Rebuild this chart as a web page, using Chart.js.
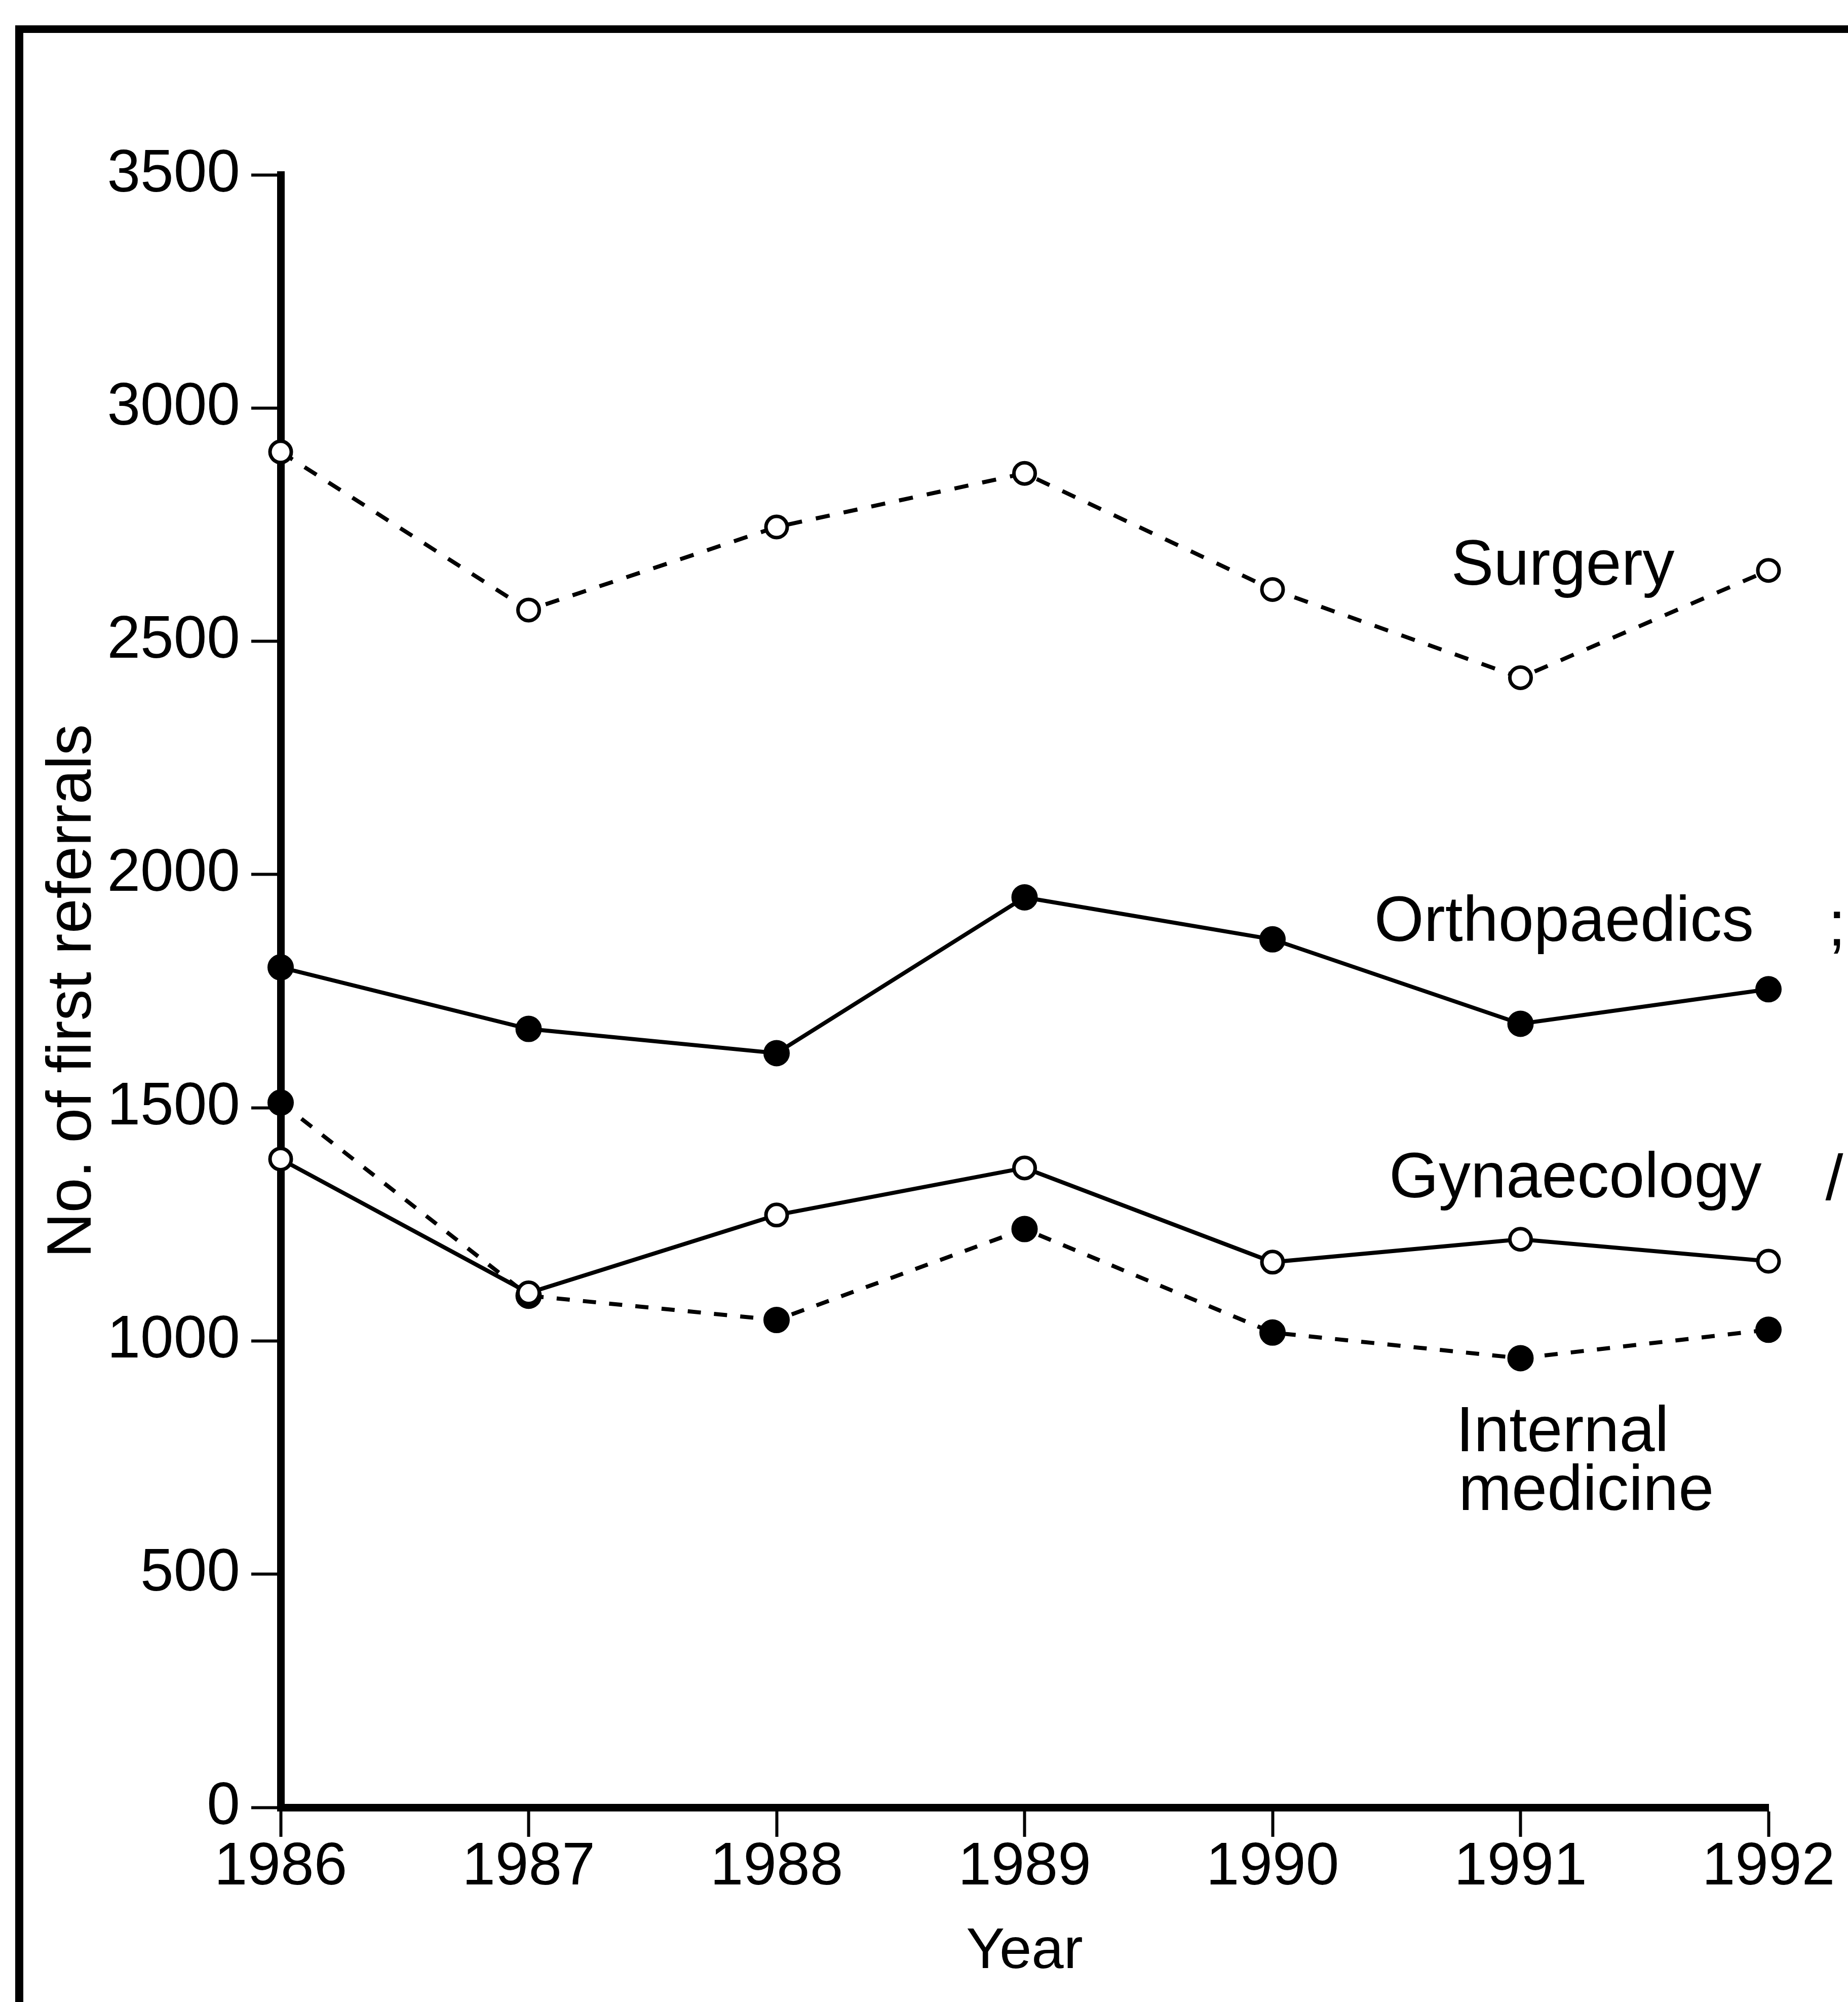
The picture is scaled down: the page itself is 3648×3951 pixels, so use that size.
<!DOCTYPE html>
<html>
<head>
<meta charset="utf-8">
<script src="https://cdn.jsdelivr.net/npm/chart.js@4/dist/chart.umd.min.js"></script>
<style>
  html, body { margin: 0; padding: 0; background: #fff; }
  canvas { display: block; }
</style>
</head>
<body>
<canvas id="referralsChart" width="3648" height="3951"></canvas>
<script>
const years = ['1986', '1987', '1988', '1989', '1990', '1991', '1992']
const surgery = [2906, 2567, 2745, 2860, 2611, 2422, 2652]
const orthopaedics = [1801, 1669, 1617, 1951, 1861, 1680, 1754]
const gynaecology = [1390, 1103, 1270, 1371, 1169, 1218, 1171]
const internalMedicine = [1511, 1097, 1045, 1240, 1018, 963, 1024]
const yMin = 0
const yMax = 3500
const yStep = 500

const FONT = '"Liberation Sans", Arial, Helvetica, sans-serif'

// white page plus the scanned frame (top and left edges only)
const pagePlugin = {
    id: 'page',
    beforeDraw: (chart) => {
        const ctx = chart.ctx
        ctx.save()
        ctx.fillStyle = '#fff'
        ctx.fillRect(0, 0, chart.width, chart.height)
        ctx.fillStyle = '#000'
        ctx.fillRect(30, 50, chart.width - 30, 15)
        ctx.fillRect(30, 50, 16, chart.height - 50)
        ctx.restore()
    }
}

// series names written next to the lines, anchored in data units
const seriesNames = [
    { text: 'Surgery', x: 4.72, y: 2621 },
    { text: 'Orthopaedics', x: 4.41, y: 1857 },
    { text: 'Gynaecology', x: 4.47, y: 1308 },
    { text: 'Internal', x: 4.74, y: 764 },
    { text: 'medicine', x: 4.75, y: 638 },
    { text: ';', x: 6.24, y: 1848 },
    { text: '/', x: 6.23, y: 1302 }
]

const namesPlugin = {
    id: 'names',
    afterDatasetsDraw: (chart) => {
        const ctx = chart.ctx
        const xs = chart.scales.x
        const ys = chart.scales.y
        ctx.save()
        ctx.fillStyle = '#000'
        ctx.font = '126px ' + FONT
        ctx.textAlign = 'left'
        ctx.textBaseline = 'alphabetic'
        seriesNames.forEach(n => {
            ctx.fillText(n.text, xs.getPixelForValue(n.x), ys.getPixelForValue(n.y))
        })
        ctx.restore()
    }
}

const openPoint = {
    pointStyle: 'circle',
    pointRadius: 21,
    pointBackgroundColor: '#fff',
    pointBorderColor: '#000',
    pointBorderWidth: 7
}
const filledPoint = {
    pointStyle: 'circle',
    pointRadius: 25,
    pointBackgroundColor: '#000',
    pointBorderColor: '#000',
    pointBorderWidth: 2
}

const data = {
    labels: years,
    datasets: [
        Object.assign({
            label: 'Surgery',
            data: surgery,
            borderColor: '#000',
            borderWidth: 8,
            borderDash: [28, 28]
        }, openPoint),
        Object.assign({
            label: 'Orthopaedics',
            data: orthopaedics,
            borderColor: '#000',
            borderWidth: 8
        }, filledPoint),
        Object.assign({
            label: 'Gynaecology',
            data: gynaecology,
            borderColor: '#000',
            borderWidth: 8
        }, openPoint),
        Object.assign({
            label: 'Internal medicine',
            data: internalMedicine,
            borderColor: '#000',
            borderWidth: 8,
            borderDash: [26, 26]
        }, filledPoint)
    ]
}

const config = {
    type: 'line',
    data: data,
    options: {
        responsive: false,
        animation: false,
        devicePixelRatio: 1,
        layout: { padding: { top: 345, right: 157, left: 0, bottom: 0 } },
        elements: { line: { tension: 0, fill: false } },
        datasets: { line: { clip: false } },
        plugins: {
            legend: { display: false },
            tooltip: { enabled: false }
        },
        scales: {
            x: {
                type: 'category',
                offset: false,
                afterFit: (scale) => { scale.height = 384 },
                border: { display: true, color: '#000', width: 15 },
                grid: {
                    drawOnChartArea: false,
                    drawTicks: true,
                    tickLength: 58,
                    tickWidth: 6,
                    tickColor: '#000'
                },
                ticks: {
                    color: '#000',
                    padding: 2,
                    maxRotation: 0,
                    autoSkip: false,
                    font: { family: FONT, size: 118, lineHeight: 1 }
                },
                title: {
                    display: true,
                    text: 'Year',
                    color: '#000',
                    padding: { top: 0, bottom: 30 },
                    font: { family: FONT, size: 114, lineHeight: 1.2 }
                }
            },
            y: {
                min: yMin,
                max: yMax,
                afterFit: (scale) => { scale.width = 554 },
                border: { display: true, color: '#000', width: 15 },
                grid: {
                    drawOnChartArea: false,
                    drawTicks: true,
                    tickLength: 58,
                    tickWidth: 6,
                    tickColor: '#000'
                },
                ticks: {
                    stepSize: yStep,
                    color: '#000',
                    padding: 22,
                    font: { family: FONT, size: 118 },
                    callback: (value) => String(value)
                },
                title: {
                    display: true,
                    text: 'No. of first referrals',
                    color: '#000',
                    padding: { top: 70, bottom: 0 },
                    font: { family: FONT, size: 124, lineHeight: 1.2 }
                }
            }
        }
    },
    plugins: [pagePlugin, namesPlugin]
}

const referralsChart = new Chart(document.getElementById('referralsChart'), config)
</script>
</body>
</html>
